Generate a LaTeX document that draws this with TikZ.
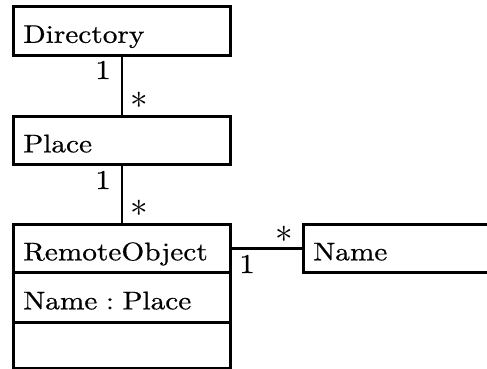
\RequirePackage{fix-cm}
\documentclass[tikz,border=0pt]{standalone}
\usepackage{fontspec}
\setmainfont{lmroman10-regular}[Extension=.otf, FakeStretch=1.15, FakeBold=0.6]
\usepackage{tikz}
\newcommand{\umlfont}{\fontsize{25.5}{30}\selectfont}
\newcommand{\multfont}{\fontsize{27}{32}\selectfont}
\newcommand{\many}{\scalebox{1.3}{$*$}}
\tikzstyle{classbox} = [rectangle, draw, line width=2.6pt, anchor=north west, minimum width=217pt, text width=197pt, inner xsep=10pt, inner ysep=0pt, align=left, text height=24pt, text depth=0pt, font=\umlfont]
\tikzstyle{assoc} = [draw, line width=2.6pt]
\tikzstyle{mult} = [inner sep=0pt, font=\multfont]

\begin{document}
\begin{tikzpicture}[x=1pt, y=-1pt]
\clip (0, 0) rectangle (487, 369);

% classes
\node [classbox, minimum height=49pt] at (12, 5) (dir) {Directory};
\node [classbox, minimum height=48pt] at (12, 115) (place) {Place};
\node [classbox, minimum height=48pt] at (12, 223) (ro) {RemoteObject};
\node [classbox, minimum height=50pt] at (12, 271) (roattr) {Name :\ Place};
\node [classbox, minimum height=46pt] at (12, 321) (roops) {};
\node [classbox, minimum height=48pt] at (302, 223) (name) {Name};

% associations
\path [assoc] (dir.south) to (place.north);
\path [assoc] (place.south) to (ro.north);
\path [assoc] (ro.east) to (name.west);

% multiplicities
\node [mult] at (103, 70) (m1) {1};
\node [mult] at (139, 100) (m2) {\many};
\node [mult] at (103, 180) (m3) {1};
\node [mult] at (139, 208) (m4) {\many};
\node [mult] at (247, 264) (m5) {1};
\node [mult] at (284, 234) (m6) {\many};

\end{tikzpicture}
\end{document}
